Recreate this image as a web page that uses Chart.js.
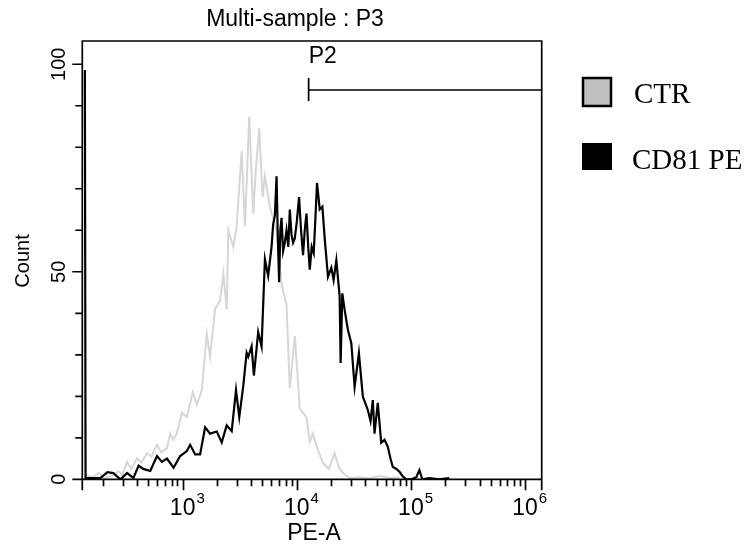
<!DOCTYPE html>
<html>
<head>
<meta charset="utf-8">
<script src="https://cdn.jsdelivr.net/npm/chart.js@4.4.1/dist/chart.umd.min.js"></script>
<style>
  html, body { margin: 0; padding: 0; background: #fff; }
  #wrap { width: 747px; height: 554px; }
</style>
</head>
<body>
<div id="wrap"><canvas id="histChart" width="747" height="554"></canvas></div>
<script>
// CTR (unstained control) histogram, PE-A value / count
const ctrPE = [141, 162, 183, 206, 242, 273, 296, 326, 355, 398, 435, 487, 531, 596, 649, 728, 778, 826, 889,
  984, 1088, 1228, 1331, 1472, 1627, 1738, 1923, 2127, 2271, 2432, 2512, 2778, 2974, 3289, 3516, 3831,
  4151, 4385, 4686, 5013, 5258, 5810, 6650, 7350, 8128, 8689, 9606, 10620, 12160, 12990, 13800, 15360,
  16980, 19030, 21470, 23270, 25360, 29010, 35480, 43430, 53090, 64920, 79400];
const ctrCount = [1, 0.5, 1.5, 0.3, 0.8, 2, 1, 4.2, 2.5, 5.1, 4, 6.3, 5.5, 8.3, 6.5, 7.5, 11, 9.5, 11,
  16, 15, 21, 18, 21.5, 35, 29.5, 41, 43, 49.6, 41, 60, 56, 61, 79, 61, 87.4,
  64, 75, 84.6, 68, 73, 65.7, 60, 47, 42, 22, 34.5, 17, 15, 9, 11, 7,
  3.9, 2.5, 6.3, 3, 1.5, 0.3, 0.5, 0.2, 0.8, 0.3, 0.5];

// CD81 PE stained histogram
const cd81PE = [139, 141, 156, 190, 219, 247, 285, 326, 370, 411, 452, 520, 596, 658, 728, 832, 951, 1088,
  1163, 1286, 1422, 1573, 1738, 1989, 2200, 2432, 2690, 2934, 3134, 3397, 3636, 3758, 4020, 4210, 4590,
  4915, 5258, 5614, 6010, 6210, 6427, 6650, 6826, 7004, 7175, 7350, 7589, 7852, 8128, 8432, 8689, 8989,
  9283, 9606, 10000, 10470, 10900, 11350, 11740, 12160, 12600, 12990, 13520, 14070, 14510, 15040, 15500,
  15880, 16760, 17570, 18770, 20080, 21030, 22210, 23750, 24230, 25060, 26260, 28050, 30050, 32120,
  35020, 37930, 41950, 44290, 46380, 47970, 51270, 54920, 58700, 62710, 66200, 69350, 74700, 79370,
  84330, 90830, 100900, 111600, 118600, 126000, 145100, 177400, 216800];
const cd81Count = [98.6, 0.3, 0.3, 0.3, 1.7, 1.5, 0, 1.5, 0.3, 3.3, 2.5, 2, 5.6, 4.2, 5, 2.8, 5.6, 6.8,
  8.3, 6, 6, 12.5, 11, 11.5, 8.9, 13, 11.6, 21.5, 15, 22.5, 30.5, 29.5, 32, 25, 35.5,
  32, 53, 49, 56, 61.5, 63.5, 73, 58, 47.5, 60, 63, 55, 57, 60, 56, 65, 59,
  57, 58, 62, 68, 60, 54, 60, 64, 56, 50.5, 56, 54.5, 62, 71.4, 68,
  65, 65.7, 58, 48.8, 51, 48, 52.8, 44, 28, 44.8, 40.8, 36, 32.8, 22.3,
  30.4, 19.9, 16.7, 14, 19.1, 11, 18.4, 8.8, 9.5, 7.9, 5, 3, 2.5, 1.8,
  0.8, 0, 0, 0.5, 2.2, 0, 0.3, 0, 0.3];

const xMin = 132, xMax = 1.4e6;
const yMax = 105.6;
const xDecades = [1e3, 1e4, 1e5, 1e6];
const xExponents = ["3", "4", "5", "6"];
const yLabelTicks = [0, 50, 100];
const yMinorStep = 10;
const gateName = "P2";
const gateStart = 12700;
const legendNames = ["CTR", "CD81 PE"];

function toPoints(xv, yv) {
  return xv.map((v, i) => ({ x: v, y: yv[i] }));
}

const sans = "'Liberation Sans', Arial, sans-serif";

const histDecor = {
  id: "histDecor",
  afterDraw(chart) {
    const ctx = chart.ctx;
    const xs = chart.scales.x, ys = chart.scales.y;
    const a = chart.chartArea;
    const y0 = ys.getPixelForValue(0);
    ctx.save();
    ctx.strokeStyle = "#000";
    ctx.fillStyle = "#000";
    ctx.lineWidth = 1.7;

    // frame + baseline axis
    ctx.beginPath();
    ctx.moveTo(a.left, y0 + 11); ctx.lineTo(a.left, a.top);
    ctx.lineTo(a.right, a.top); ctx.lineTo(a.right, y0 + 11);
    ctx.moveTo(a.left, y0); ctx.lineTo(a.right, y0);
    ctx.stroke();

    // x ticks (log decades + minors)
    ctx.beginPath();
    for (let d = 100; d <= 1e6; d *= 10) {
      for (let m = 1; m <= 9; m++) {
        const v = m * d;
        if (v < xMin || v > xMax) continue;
        const px = Math.round(xs.getPixelForValue(v)) + 0.5;
        ctx.moveTo(px, y0);
        ctx.lineTo(px, y0 + (m === 1 ? 11 : 7));
      }
    }
    // y ticks
    for (let v = 0; v <= 100; v += yMinorStep) {
      const py = ys.getPixelForValue(v);
      ctx.moveTo(a.left, py);
      ctx.lineTo(a.left - (v % 50 === 0 ? 10 : 7), py);
    }
    ctx.stroke();

    // x tick labels 10^n
    xDecades.forEach((v, i) => {
      const px = xs.getPixelForValue(v);
      ctx.font = "23px " + sans;
      ctx.textAlign = "center";
      ctx.textBaseline = "alphabetic";
      ctx.fillText("10", px, 515);
      const w = ctx.measureText("10").width;
      ctx.font = "15px " + sans;
      ctx.textAlign = "left";
      ctx.fillText(xExponents[i], px + w / 2 + 1, 503);
    });

    // y tick labels (rotated)
    ctx.font = "20px " + sans;
    ctx.textAlign = "center";
    yLabelTicks.forEach(v => {
      ctx.save();
      ctx.translate(65, ys.getPixelForValue(v));
      ctx.rotate(-Math.PI / 2);
      ctx.fillText(String(v), 0, 0);
      ctx.restore();
    });

    // axis titles
    ctx.font = "20px " + sans;
    ctx.save();
    ctx.translate(29, 261);
    ctx.rotate(-Math.PI / 2);
    ctx.fillText("Count", 0, 0);
    ctx.restore();
    ctx.font = "23px " + sans;
    ctx.fillText("PE-A", 314, 540);

    // title
    ctx.font = "23px " + sans;
    ctx.fillText("Multi-sample : P3", 295, 26);

    // gate P2
    const gx = xs.getPixelForValue(gateStart);
    ctx.beginPath();
    ctx.moveTo(gx, 78); ctx.lineTo(gx, 101);
    ctx.moveTo(gx, 90); ctx.lineTo(a.right, 90);
    ctx.stroke();
    ctx.textAlign = "left";
    ctx.fillText(gateName, gx, 63);

    // legend
    ctx.fillStyle = "#c0c0c0";
    ctx.fillRect(583, 78, 28, 28);
    ctx.lineWidth = 2.5;
    ctx.strokeRect(583, 78, 28, 28);
    ctx.fillStyle = "#000";
    ctx.fillRect(582, 143, 30, 27);
    ctx.font = "29px 'Liberation Serif', 'Times New Roman', serif";
    ctx.fillText(legendNames[0], 634, 103);
    ctx.fillText(legendNames[1], 632, 169);
    ctx.restore();
  }
};

new Chart(document.getElementById("histChart").getContext("2d"), {
  type: "line",
  data: {
    datasets: [
      {
        label: legendNames[1],
        data: toPoints(cd81PE, cd81Count),
        borderColor: "#000",
        borderWidth: 2.2,
        pointRadius: 0,
        tension: 0,
        order: 0
      },
      {
        label: legendNames[0],
        data: toPoints(ctrPE, ctrCount),
        borderColor: "#d6d6d6",
        borderWidth: 2,
        pointRadius: 0,
        tension: 0,
        order: 1
      }
    ]
  },
  options: {
    responsive: false,
    animation: false,
    layout: { padding: { left: 82.3, right: 205.3, top: 41, bottom: 74.7 } },
    plugins: { legend: { display: false }, tooltip: { enabled: false }, title: { display: false } },
    scales: {
      x: { type: "logarithmic", min: xMin, max: xMax, display: false },
      y: { type: "linear", min: 0, max: yMax, display: false }
    }
  },
  plugins: [histDecor]
});
</script>
</body>
</html>
